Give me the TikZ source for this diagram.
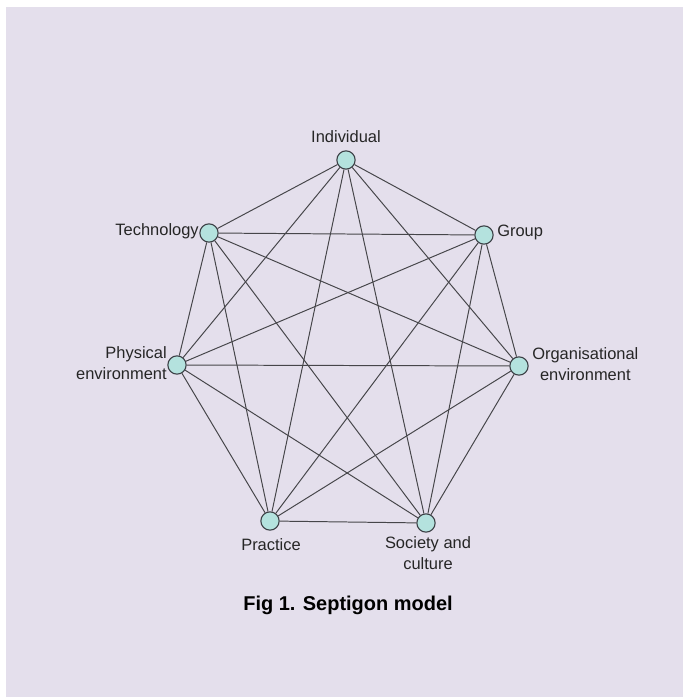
\documentclass[tikz,border=0pt]{standalone}
\usepackage{fontspec}
\setmainfont{Liberation Sans}
\usepackage{tikz}
\usetikzlibrary{positioning}

\definecolor{lavbg}{RGB}{228,223,236}
\definecolor{dotfill}{RGB}{180,226,222}
\definecolor{dotline}{RGB}{60,64,70}
\definecolor{edgegray}{RGB}{70,70,74}

\begin{document}
\begin{tikzpicture}[x=0.025cm, y=-0.025cm,
			dot/.style={circle, draw=dotline, fill=dotfill, line width=0.8pt, minimum size=13, inner sep=0pt},
			lbl/.style={inner sep=0pt, font=\fontsize{11.7}{15}\selectfont, text=black!85},
			link/.style={line width=0.7pt, color=edgegray},
			]
			%Background
				\useasboundingbox (0,0) rectangle (683,697);
				\fill[white] (0,0) rectangle (683,697);
				\fill[lavbg] (6,7) rectangle (683,697);
			%Nodes
				% septigon corners
				\node[dot]		(indiv)		at (346,160)		{};
				\node[dot]		(group)		at (484,235)		{};
				\node[dot]		(orgenv)	at (519,366)		{};
				\node[dot]		(society)	at (426,523)		{};
				\node[dot]		(practice)	at (270,521)		{};
				\node[dot]		(physenv)	at (177,365)		{};
				\node[dot]		(tech)		at (209,233)		{};
				% labels
				\node[lbl]						at (346,137)	{Individual};
				\node[lbl, anchor=west]			at (497,232)	{Group};
				\node[lbl, anchor=west, align=center]	at (532,364)	{Organisational\\environment};
				\node[lbl, align=center]		at (428,553)	{Society and\\culture};
				\node[lbl]						at (271,545)	{Practice};
				\node[lbl, anchor=east, align=right]	at (167,363)	{Physical\\environment};
				\node[lbl, anchor=east]			at (199,231)	{Technology};
				% caption
				\node[inner sep=0pt, font=\fontsize{14.2}{16}\selectfont\bfseries] (caption) at (348,605) {Fig 1. Septigon model};

			%Lines
				% from Individual
				\draw[link] (indiv) -- (group);
				\draw[link] (indiv) -- (orgenv);
				\draw[link] (indiv) -- (society);
				\draw[link] (indiv) -- (practice);
				\draw[link] (indiv) -- (physenv);
				\draw[link] (indiv) -- (tech);
				% from Group
				\draw[link] (group) -- (orgenv);
				\draw[link] (group) -- (society);
				\draw[link] (group) -- (practice);
				\draw[link] (group) -- (physenv);
				\draw[link] (group) -- (tech);
				% from Organisational environment
				\draw[link] (orgenv) -- (society);
				\draw[link] (orgenv) -- (practice);
				\draw[link] (orgenv) -- (physenv);
				\draw[link] (orgenv) -- (tech);
				% from Society and culture
				\draw[link] (society) -- (practice);
				\draw[link] (society) -- (physenv);
				\draw[link] (society) -- (tech);
				% from Practice
				\draw[link] (practice) -- (physenv);
				\draw[link] (practice) -- (tech);
				% from Physical environment
				\draw[link] (physenv) -- (tech);
		\end{tikzpicture}
\end{document}
